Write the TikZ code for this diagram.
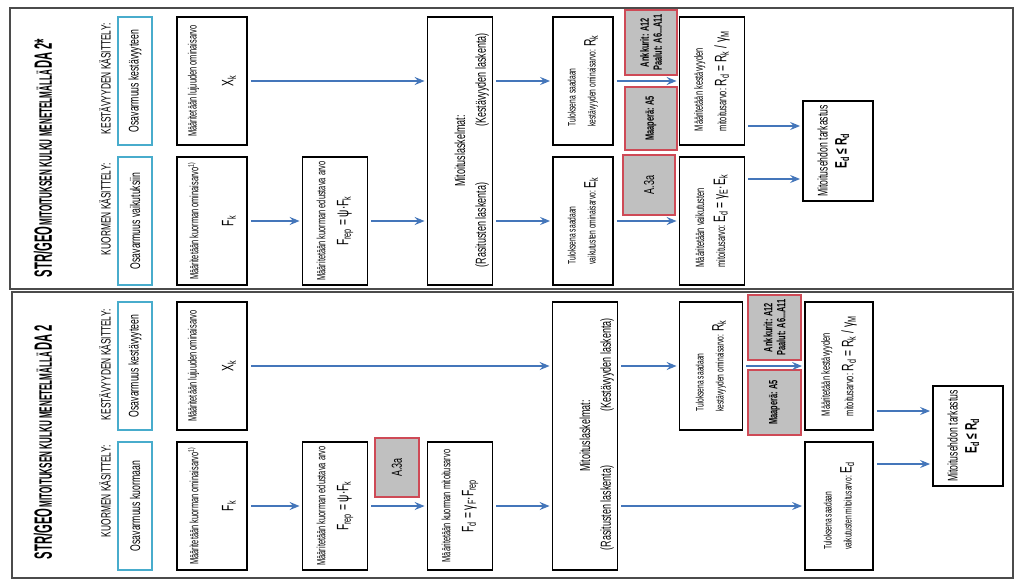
\documentclass[tikz,border=0pt]{standalone}
\usepackage{fontspec}
\setmainfont{Liberation Sans}[FakeStretch=0.62]
\newfontfamily\titlefont{Liberation Sans}[FakeStretch=0.45]
\usetikzlibrary{arrows.meta,positioning}

\definecolor{arrowblue}{RGB}{68,118,186}
\definecolor{osacyan}{RGB}{72,172,204}
\definecolor{refgray}{RGB}{192,192,192}
\definecolor{refred}{RGB}{206,74,86}
\definecolor{framegray}{RGB}{75,75,75}

\newcommand{\sbs}[1]{\textsubscript{#1}}
\newcommand{\ftul}{\fontsize{10.8}{12}\selectfont}
\newcommand{\fsm}{\fontsize{12}{13}\selectfont}
\newcommand{\flab}{\fontsize{13.5}{15}\selectfont}
\newcommand{\fmid}{\fontsize{14.5}{16}\selectfont}
\newcommand{\fbig}{\fontsize{16.5}{18}\selectfont}
\newcommand{\tbig}{\fontsize{25}{28}\selectfont}
\newcommand{\tsml}{\fontsize{18}{20}\selectfont}

\tikzset{
  box/.style={draw, line width=1.8pt, fill=white, minimum width=128pt, minimum height=65pt,
    align=center, inner sep=2pt, font=\fsm},
  tulbox/.style={box, align=left, font=\ftul},
  osabox/.style={draw=osacyan, line width=2pt, fill=white, minimum width=128pt, minimum height=34pt, font=\fontsize{14}{16}\selectfont},
  refbox/.style={draw=refred, line width=1.3pt, fill=refgray, minimum height=52pt, align=center, inner sep=1pt, font=\fsm\bfseries},
  hlabel/.style={anchor=east, font=\flab},
  note/.style={font=\fmid},
  titlenode/.style={font=\titlefont\bfseries},
  panel/.style={draw=framegray, line width=1.5pt},
  arr/.style={draw=arrowblue, line width=1.5pt, -{Stealth[length=10pt,width=8pt,inset=3.5pt]}, shorten <=3pt, shorten >=2pt}
}

\begin{document}
\begin{tikzpicture}[x=1pt, y=1pt, rotate=90, transform shape, on grid, node distance=123pt]
  \useasboundingbox (0,0) rectangle (-583,-1024);
  \draw[panel] (-8,-10) rectangle (-289,-1013);
  \draw[panel] (-292,-12) rectangle (-578,-1013);

  \node[titlenode] (title1) at (-158,-43) {{\tbig STR/GEO} {\tsml MITOITUKSEN KULKU MENETELMÄLLÄ} {\tbig DA 2*}};
  \node[hlabel] (lkest1) at (-20,-105) {KESTÄVYYDEN KÄSITTELY:};
  \node[hlabel] (lkuor1) at (-160,-105) {KUORMEN KÄSITTELY:};
  \node[box, minimum height=70pt] (xk1) at (-81,-212) {Määritetään lujuuden ominaisarvo\\[22pt]{\fbig X\sbs{k}}};
  \node[box, minimum height=70pt] (fk1) [left=140pt of xk1] {Määritetään kuorman ominaisarvo\textsuperscript{1)}\\[22pt]{\fbig F\sbs{k}}};
  \node[osabox] (osak1) [above=77pt of xk1] {Osavarmuus kestävyyteen};
  \node[osabox] (osav1) [above=77pt of fk1] {Osavarmuus vaikutuksiin};
  \node[box] (frep1) [below=of fk1] {Määritetään kuorman edustava arvo\\[10pt]{\fbig F\sbs{rep} = ψ·F\sbs{k}}};
  \node[box, minimum width=268pt, font=\fmid] (mit1) [below right=125pt and 70pt of frep1] {Mitoituslaskelmat:};
  \node[note] (mitk1) [below right=22pt and 71pt of mit1] {(Kestävyyden laskenta)};
  \node[note] (mitr1) [below left=22pt and 74pt of mit1] {(Rasitusten laskenta)};
  \node[tulbox, minimum height=60pt] (rk1) [below right=123pt and 70pt of mit1] {Tuloksena saadaan\\[8pt]kestävyyden ominaisarvo: {\fbig R\sbs{k}}};
  \node[tulbox, minimum height=60pt] (ek1) [below left=123pt and 70pt of mit1] {Tuloksena saadaan\\[8pt]vaikutusten ominaisarvo: {\fbig E\sbs{k}}};
  \node[refbox, minimum width=65pt] (ank1) at (-42.5,-651) {Ankkurit: A12\\Paalut: A6...A11};
  \node[refbox, minimum width=63pt] (maap1) at (-118.5,-651) {Maaperä: A5};
  \node[refbox, minimum width=60pt, font=\fmid] (a3a1) at (-185,-649) {A.3a};
  \node[box, align=left] (rd1) [below=129pt of rk1] {Määritetään kestävyyden\\[8pt]mitoitusarvo: {\fbig R\sbs{d} = R\sbs{k} / γ\sbs{M}}};
  \node[box, align=left] (ed1) [below=129pt of ek1] {Määritetään vaikutusten\\[8pt]mitoitusarvo: {\fbig E\sbs{d} = γ\sbs{E}·E\sbs{k}}};
  \node[box, minimum width=100pt, minimum height=70pt, text depth=12pt] (chk1) [below right=126pt and 70pt of ed1] {{\fontsize{14}{16}\selectfont Mitoitusehdon tarkastus}\\[6pt]{\fbig\bfseries E\sbs{d} ≤ R\sbs{d}}};
  \coordinate (chkr1) at ([xshift=25pt]chk1.north);
  \coordinate (chke1) at ([xshift=-28pt]chk1.north);

  \draw[arr] (xk1.south) -- (xk1.south |- mit1.north);
  \draw[arr] (fk1.south) -- (frep1.north);
  \draw[arr] (frep1.south) -- (frep1.south |- mit1.north);
  \draw[arr] (rk1.north |- mit1.south) -- (rk1.north);
  \draw[arr] (ek1.north |- mit1.south) -- (ek1.north);
  \draw[arr] (rk1.south) -- (rd1.north);
  \draw[arr] (ek1.south) -- (ed1.north);
  \draw[arr] (chkr1 |- rd1.south) -- (chkr1);
  \draw[arr] (chke1 |- ed1.south) -- (chke1);

  \node[titlenode] (title2) at (-442,-43) {{\tbig STR/GEO} {\tsml MITOITUKSEN KULKU MENETELMÄLLÄ} {\tbig DA 2}};
  \node[hlabel] (lkest2) at (-306,-105) {KESTÄVYYDEN KÄSITTELY:};
  \node[hlabel] (lkuor2) at (-442,-105) {KUORMEN KÄSITTELY:};
  \node[box, minimum height=70pt] (xk2) at (-366,-212) {Määritetään lujuuden ominaisarvo\\[22pt]{\fbig X\sbs{k}}};
  \node[box, minimum height=70pt] (fk2) [left=140pt of xk2] {Määritetään kuorman ominaisarvo\textsuperscript{1)}\\[22pt]{\fbig F\sbs{k}}};
  \node[osabox] (osak2) [above=77pt of xk2] {Osavarmuus kestävyyteen};
  \node[osabox] (osaq2) [above=77pt of fk2] {Osavarmuus kuormaan};
  \node[box] (frep2) [below=of fk2] {Määritetään kuorman edustava arvo\\[10pt]{\fbig F\sbs{rep} = ψ·F\sbs{k}}};
  \node[refbox, minimum width=59pt, minimum height=44pt, font=\fmid] (a3a2) at (-467.5,-397) {A.3a};
  \node[box] (fd2) [below=125pt of frep2] {Määritetään kuorman mitoitusarvo\\[10pt]{\fbig F\sbs{d} = γ\sbs{F}·F\sbs{rep}}};
  \node[box, minimum width=268pt, font=\fmid] (mit2) [below right=125pt and 70pt of fd2] {Mitoituslaskelmat:};
  \node[note] (mitk2) [below right=22pt and 71pt of mit2] {(Kestävyyden laskenta)};
  \node[note] (mitr2) [below left=22pt and 72pt of mit2] {(Rasitusten laskenta)};
  \node[tulbox, minimum height=63pt] (rk2) [below right=126pt and 70pt of mit2] {Tuloksena saadaan\\[8pt]kestävyyden ominaisarvo: {\fbig R\sbs{k}}};
  \node[refbox, minimum width=65pt, minimum height=53pt] (ank2) at (-327.5,-774.5) {Ankkurit: A12\\Paalut: A6...A11};
  \node[refbox, minimum width=65pt, minimum height=53pt] (maap2) at (-402.5,-774.5) {Maaperä: A5};
  \node[box, align=left, minimum height=68pt] (rd2) [below=128pt of rk2] {Määritetään kestävyyden\\[8pt]mitoitusarvo: {\fbig R\sbs{d} = R\sbs{k} / γ\sbs{M}}};
  \node[tulbox, minimum height=68pt] (ed2) [below left=254pt and 70pt of mit2] {Tuloksena saadaan\\[8pt]vaikutusten mitoitusarvo: {\fbig E\sbs{d}}};
  \node[box, minimum width=100pt, minimum height=70pt, text depth=12pt] (chk2) [below right=129pt and 70pt of ed2] {{\fontsize{14}{16}\selectfont Mitoitusehdon tarkastus}\\[6pt]{\fbig\bfseries E\sbs{d} ≤ R\sbs{d}}};
  \coordinate (chkr2) at ([xshift=25pt]chk2.north);
  \coordinate (chke2) at ([xshift=-28pt]chk2.north);

  \draw[arr] (xk2.south) -- (xk2.south |- mit2.north);
  \draw[arr] (fk2.south) -- (frep2.north);
  \draw[arr] (frep2.south) -- (fd2.north);
  \draw[arr] (fd2.south) -- (fd2.south |- mit2.north);
  \draw[arr] (rk2.north |- mit2.south) -- (rk2.north);
  \draw[arr] (ed2.north |- mit2.south) -- (ed2.north);
  \draw[arr] (rk2.south) -- (rd2.north);
  \draw[arr] (chkr2 |- rd2.south) -- (chkr2);
  \draw[arr] (chke2 |- ed2.south) -- (chke2);
\end{tikzpicture}
\end{document}
